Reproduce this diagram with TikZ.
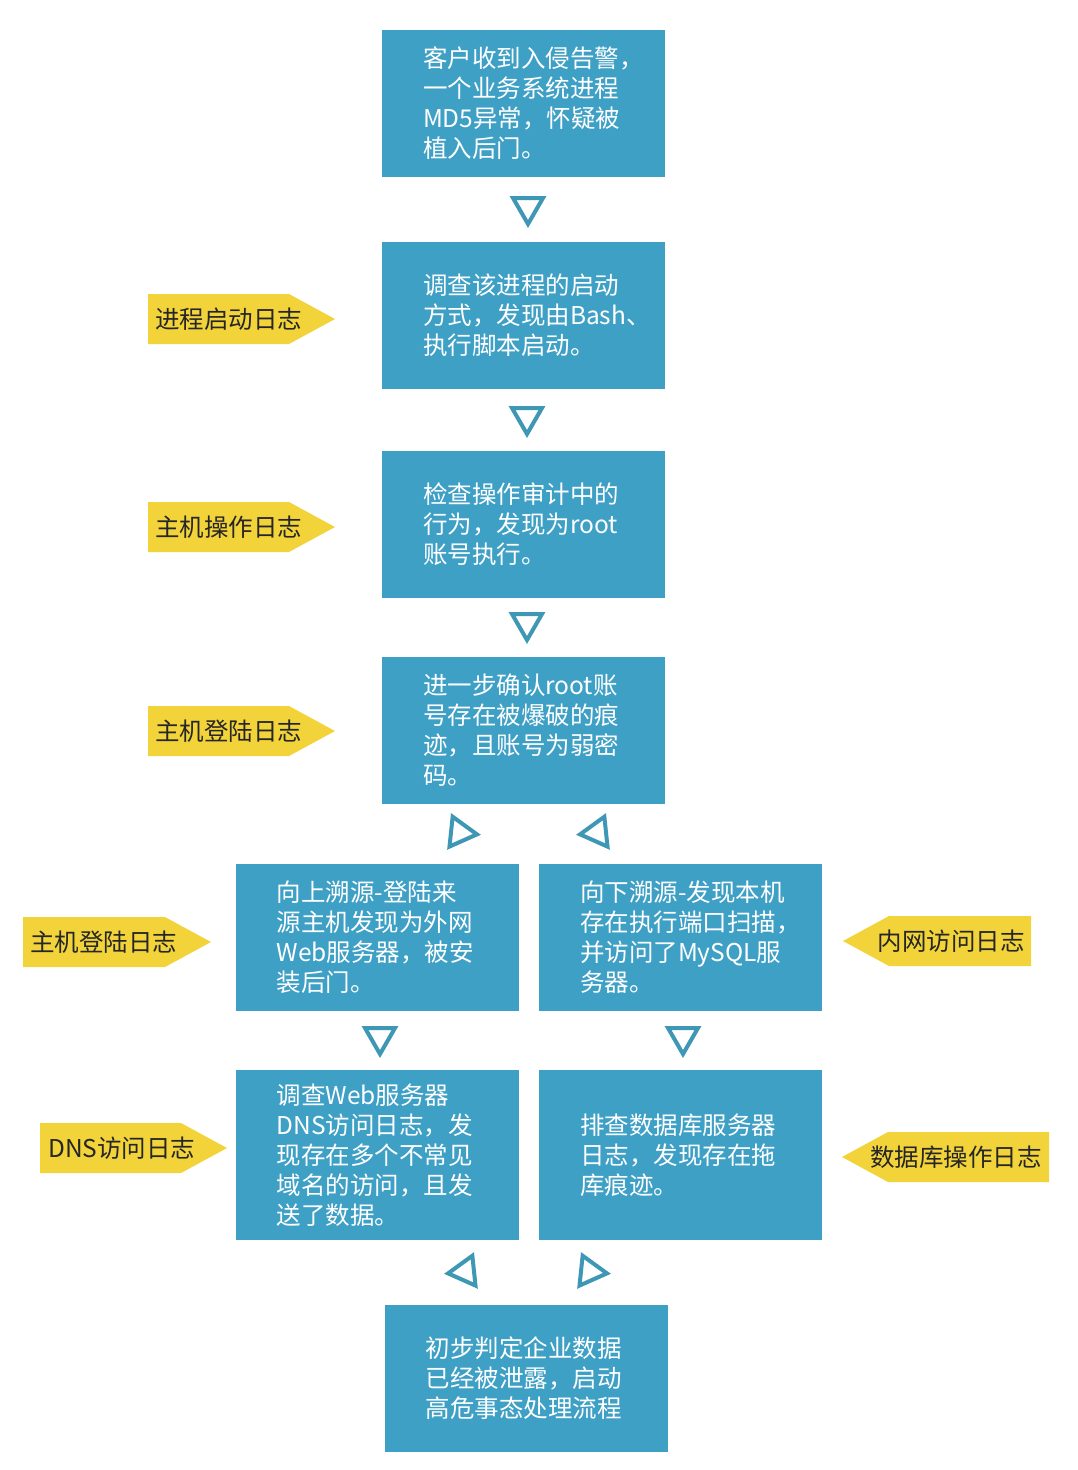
\documentclass[tikz,border=0pt]{standalone}
\usepackage{fontspec}
\newfontfamily\cjk{Noto Sans CJK SC}
\hfuzz=40pt
\exhyphenpenalty=10000
\definecolor{boxblue}{HTML}{3FA0C6}
\definecolor{triblue}{HTML}{3F97B6}
\definecolor{tagyellow}{HTML}{F2D43A}
\tikzset{
  stepbox/.style={fill=boxblue, text=white, minimum width=283pt, minimum height=147pt,
    text width=201pt, inner xsep=41pt, align=left, font=\cjk\fontsize{24.5}{30}\selectfont},
  tagtext/.style={text=black!85, inner sep=0pt, font=\cjk\fontsize{24.5}{28}\selectfont},
  marker/.style={draw=triblue, line width=4pt, fill=white},
}
\begin{document}
\begin{tikzpicture}[x=1pt, y=-1pt]
    \fill[white] (0,0) rectangle (1078,1470);

    % Etapes
    \node[stepbox] (alert) at (523.5,103.5) {客户收到入侵告警，\\一个业务系统进程\\MD5异常，怀疑被\\植入后门。};
    \node[stepbox] (bashstart) at (523.5,315.5) {调查该进程的启动\\方式，发现由Bash、\\执行脚本启动。};
    \node[stepbox] (rootexec) at (523.5,524.5) {检查操作审计中的\\行为，发现为root\\账号执行。};
    \node[stepbox] (brute) at (523.5,730.5) {进一步确认root账\\号存在被爆破的痕\\迹，且账号为弱密\\码。};
    \node[stepbox] (upsrc) at (377,937) {\mbox{向上溯源-登陆来}\\源主机发现为外网\\Web服务器，被安\\装后门。};
    \node[stepbox] (downsrc) at (680.5,937) {\mbox{向下溯源-发现本机}\\存在执行端口扫描，\\并访问了MySQL服\\务器。};
    \node[stepbox, minimum height=170pt] (dnslog) at (377,1155) {调查Web服务器\\DNS访问日志，发\\现存在多个不常见\\域名的访问，且发\\送了数据。};
    \node[stepbox, minimum height=170pt] (dblog) at (680.5,1155) {排查数据库服务器\\日志，发现存在拖\\库痕迹。};
    \node[stepbox] (leak) at (526,1378) {初步判定企业数据\\已经被泄露，启动\\高危事态处理流程};

    % Triangles
    \foreach \cx/\cy/\ang in {528/211/0, 527/421/0, 527/627/0, 464/833/84, 593/833/-84,
                              380/1041/0, 683/1041/0, 461/1272/-84, 594/1272/84}
        \draw[marker, shift={(\cx,\cy)}, rotate=\ang] (-15,-13) -- (15,-13) -- (0,13) -- cycle;

    % Etiquettes jaunes
    \foreach \xa/\xb/\yc in {148/335/319, 148/335/527, 148/335/731, 23/211/942, 40/227/1148}
        \fill[tagyellow] (\xa,{\yc-25}) -- ({\xb-46},{\yc-25}) -- (\xb,\yc)
            -- ({\xb-46},{\yc+25}) -- (\xa,{\yc+25}) -- cycle;
    \foreach \xa/\xb/\yc in {843/1031/941, 842/1049/1157}
        \fill[tagyellow] (\xa,\yc) -- ({\xa+46},{\yc-25}) -- (\xb,{\yc-25})
            -- (\xb,{\yc+25}) -- ({\xa+46},{\yc+25}) -- cycle;

    \node[tagtext, anchor=west] (tagproc) at (155,319) {进程启动日志};
    \node[tagtext, anchor=west] (tagop) at (155,527) {主机操作日志};
    \node[tagtext, anchor=west] (taglogin) at (155,731) {主机登陆日志};
    \node[tagtext, anchor=west] (tagloginb) at (30,942) {主机登陆日志};
    \node[tagtext, anchor=west] (tagdns) at (48,1148) {DNS访问日志};
    \node[tagtext, anchor=east] (tagnet) at (1025,941) {内网访问日志};
    \node[tagtext, anchor=east] (tagdb) at (1042,1157) {数据库操作日志};
\end{tikzpicture}
\end{document}
